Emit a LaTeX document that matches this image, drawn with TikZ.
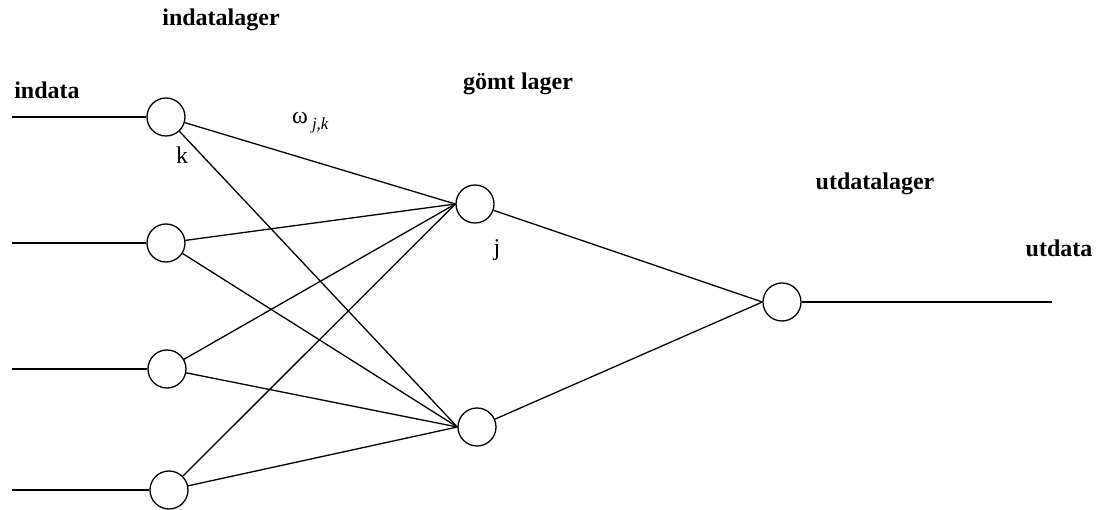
\documentclass[tikz,border=0pt]{standalone}
\usepackage{fontspec}
\setmainfont{Liberation Serif}
\begin{document}
\begin{tikzpicture}[x=1pt,y=-1pt,
  neuron/.style={circle,draw,line width=1.3pt,minimum size=38pt,inner sep=0pt},
  conn/.style={line width=1.3pt},
  title/.style={font=\fontsize{24}{28}\selectfont\bfseries,inner sep=0pt},
  idx/.style={font=\fontsize{24}{28}\selectfont,inner sep=0pt}]
\useasboundingbox (0,0) rectangle (1098,510);
% nodes
\node[neuron] (i1) at (166,117) {};
\node[neuron] (i2) at (166,243) {};
\node[neuron] (i3) at (167,369) {};
\node[neuron] (i4) at (169,490) {};
\node[neuron] (h1) at (475,204) {};
\node[neuron] (h2) at (477,427) {};
\node[neuron] (o) at (782,302) {};
\coordinate (s1) at (12,117);
\coordinate (s2) at (12,243);
\coordinate (s3) at (12,369);
\coordinate (s4) at (12,490);
\coordinate (e) at (1052,302);
% labels
\node[title] (tin) at (221,20) {indatalager};
\node[title] (tindata) at (47,90) {indata};
\node[title] (thid) at (518,84) {gömt lager};
\node[title] (tout) at (875,184) {utdatalager};
\node[title] (tutdata) at (1059,248) {utdata};
\node[idx] (lk) at (182,155) {k};
\node[idx] (lj) at (497,250) {j};
\node[idx,anchor=west] (lw) at (292,123) {ω\,{\fontsize{17}{20}\selectfont\raisebox{-6pt}{\itshape j,k}}};
% connections
\draw[conn] (s1) -- (i1.west);
\draw[conn] (s2) -- (i2.west);
\draw[conn] (s3) -- (i3.west);
\draw[conn] (s4) -- (i4.west);
\foreach \i in {i1,i2,i3,i4}{
  \draw[conn] (\i) -- (h1.west);
  \draw[conn] (\i) -- (h2.west);
}
\draw[conn] (h1) -- (o.west);
\draw[conn] (h2) -- (o.west);
\draw[conn] (o.east) -- (e);
\end{tikzpicture}
\end{document}
